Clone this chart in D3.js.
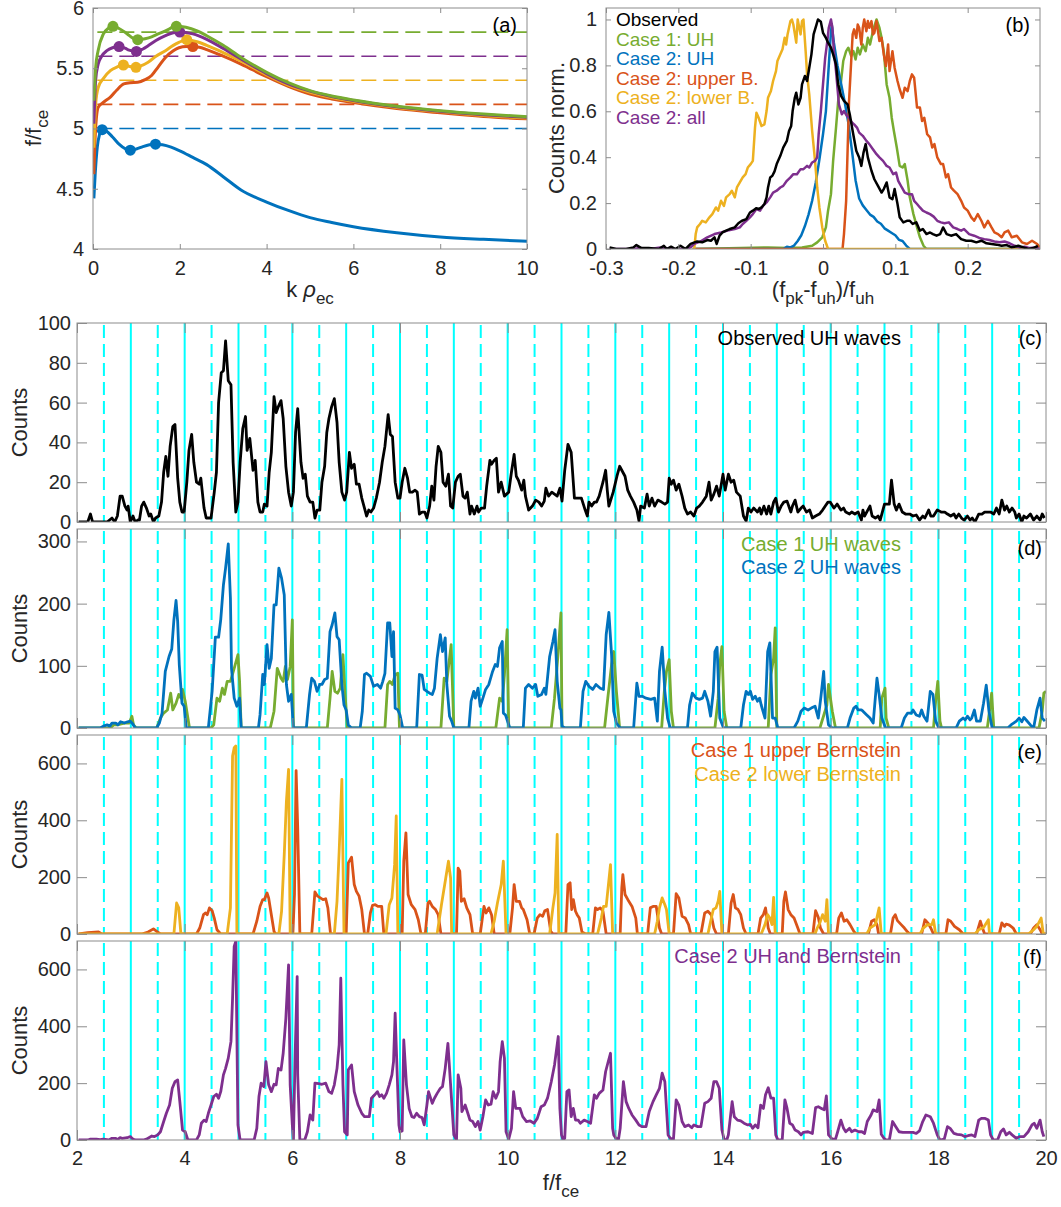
<!DOCTYPE html>
<html>
<head>
<meta charset="utf-8">
<script src="https://cdn.jsdelivr.net/npm/d3@7"></script>
<style>
body { margin: 0; background: #fff; }
text { font-family: "Liberation Sans", Arial, Helvetica, sans-serif; }
</style>
</head>
<body>
<div id="chart"></div>
<script>
// ---- panel (a): dispersion curves, f/fce vs k rho_ec ----
const dispBlue = [[0.02,4.42],[0.05,4.62],[0.1,4.85],[0.15,4.95],[0.21,4.99],[0.3,4.98],[0.45,4.93],[0.6,4.87],[0.75,4.83],[0.86,4.82],[1.0,4.83],[1.15,4.85],[1.3,4.865],[1.44,4.87],[1.6,4.865],[1.8,4.845],[2.0,4.815],[2.3,4.76],[2.62,4.70],[3.0,4.60],[3.41,4.49],[4.0,4.39],[4.5,4.32],[5.0,4.26],[5.5,4.22],[6.0,4.185],[7.0,4.135],[8.0,4.10],[9.0,4.08],[10.0,4.064]];
const dispOrange = [[0.02,4.62],[0.06,5.0],[0.12,5.176],[0.25,5.22],[0.4,5.26],[0.55,5.32],[0.71,5.37],[0.85,5.38],[1.03,5.383],[1.2,5.405],[1.35,5.44],[1.5,5.51],[1.67,5.59],[1.85,5.645],[1.98,5.67],[2.15,5.68],[2.3,5.68],[2.45,5.675],[2.62,5.655],[3.0,5.60],[3.41,5.535],[4.0,5.43],[4.5,5.35],[5.0,5.286],[5.5,5.245],[6.0,5.215],[7.0,5.165],[8.0,5.13],[9.0,5.1],[10.0,5.08]];
const dispYellow = [[0.02,4.84],[0.06,5.2],[0.12,5.34],[0.25,5.42],[0.4,5.48],[0.55,5.51],[0.7,5.527],[0.85,5.515],[0.99,5.508],[1.1,5.52],[1.27,5.55],[1.45,5.6],[1.67,5.646],[1.85,5.69],[1.98,5.715],[2.16,5.737],[2.4,5.72],[2.62,5.69],[3.0,5.63],[3.41,5.56],[4.0,5.445],[4.5,5.36],[5.0,5.30],[5.5,5.258],[6.0,5.225],[7.0,5.175],[8.0,5.14],[9.0,5.108],[10.0,5.087]];
const dispPurple = [[0.02,5.04],[0.06,5.4],[0.12,5.535],[0.2,5.6],[0.32,5.646],[0.45,5.67],[0.6,5.68],[0.75,5.665],[0.83,5.65],[1.0,5.64],[1.15,5.66],[1.27,5.687],[1.45,5.73],[1.67,5.77],[1.85,5.795],[2.0,5.80],[2.3,5.785],[2.62,5.74],[3.0,5.665],[3.41,5.577],[4.0,5.455],[4.5,5.37],[5.0,5.31],[5.5,5.265],[6.0,5.232],[7.0,5.18],[8.0,5.143],[9.0,5.115],[10.0,5.093]];
const dispGreen = [[0.02,5.23],[0.06,5.5],[0.12,5.65],[0.24,5.785],[0.35,5.83],[0.46,5.848],[0.6,5.83],[0.79,5.785],[0.92,5.75],[1.03,5.737],[1.2,5.745],[1.35,5.76],[1.5,5.785],[1.67,5.81],[1.92,5.848],[2.14,5.84],[2.4,5.81],[2.62,5.77],[3.0,5.69],[3.41,5.59],[4.0,5.466],[4.5,5.38],[5.0,5.314],[5.5,5.27],[6.0,5.237],[7.0,5.185],[8.0,5.148],[9.0,5.12],[10.0,5.098]];
const dotsBlue = [[0.21,4.99],[0.86,4.82],[1.44,4.87]];
const dotsOrange = [[2.3,5.68]];
const dotsYellow = [[0.7,5.527],[0.99,5.508],[2.16,5.737]];
const dotsPurple = [[0.6,5.68],[1.0,5.64],[2.0,5.80]];
const dotsGreen = [[0.46,5.848],[1.03,5.737],[1.92,5.848]];
const uhLevels = [5.0, 5.2, 5.4, 5.6, 5.8];

// ---- panel (b): normalised counts vs (fpk-fuh)/fuh ----
const normObserved = [[-0.295,0.007],[-0.286,0],[-0.272,0],[-0.262,0.007],[-0.258,0.017],[-0.251,0.004],[-0.241,0.004],[-0.227,0],[-0.220,0.014],[-0.216,0],[-0.210,0.01],[-0.204,0],[-0.197,0.014],[-0.190,0],[-0.183,0.022],[-0.174,0.033],[-0.167,0.029],[-0.160,0.039],[-0.155,0.036],[-0.150,0.051],[-0.147,0.022],[-0.143,0.058],[-0.139,0.072],[-0.134,0.08],[-0.129,0.087],[-0.122,0.094],[-0.117,0.112],[-0.112,0.123],[-0.106,0.13],[-0.101,0.159],[-0.097,0.167],[-0.092,0.178],[-0.089,0.174],[-0.085,0.181],[-0.081,0.196],[-0.078,0.225],[-0.076,0.268],[-0.073,0.312],[-0.070,0.319],[-0.067,0.338],[-0.064,0.37],[-0.059,0.406],[-0.055,0.442],[-0.050,0.471],[-0.047,0.514],[-0.044,0.536],[-0.042,0.601],[-0.039,0.659],[-0.037,0.681],[-0.034,0.63],[-0.031,0.659],[-0.029,0.717],[-0.025,0.754],[-0.022,0.732],[-0.019,0.79],[-0.016,0.848],[-0.013,0.935],[-0.009,0.978],[-0.007,1.0],[-0.003,0.99],[0,0.942],[0.004,0.92],[0.007,0.899],[0.011,0.877],[0.014,0.848],[0.018,0.804],[0.021,0.717],[0.025,0.667],[0.029,0.645],[0.034,0.63],[0.037,0.587],[0.041,0.514],[0.046,0.428],[0.050,0.399],[0.053,0.362],[0.056,0.42],[0.059,0.457],[0.062,0.399],[0.067,0.341],[0.071,0.304],[0.076,0.275],[0.081,0.246],[0.084,0.261],[0.088,0.29],[0.092,0.225],[0.096,0.217],[0.099,0.261],[0.103,0.196],[0.106,0.138],[0.111,0.116],[0.116,0.123],[0.120,0.123],[0.124,0.109],[0.129,0.116],[0.134,0.08],[0.138,0.087],[0.143,0.065],[0.148,0.072],[0.152,0.065],[0.157,0.058],[0.162,0.065],[0.166,0.094],[0.171,0.065],[0.177,0.058],[0.184,0.065],[0.191,0.043],[0.198,0.036],[0.205,0.036],[0.212,0.029],[0.219,0.036],[0.226,0.025],[0.233,0.022],[0.240,0.019],[0.247,0.014],[0.254,0.017],[0.261,0.007],[0.270,0.014],[0.277,0.007],[0.284,0],[0.291,0.004],[0.297,0.014]];
const normCase1UH = [[-0.18,0],[-0.076,0.007],[-0.048,0.004],[-0.029,0.007],[-0.015,0.014],[-0.008,0.029],[-0.001,0.051],[0.004,0.094],[0.007,0.167],[0.011,0.239],[0.014,0.384],[0.018,0.529],[0.021,0.645],[0.025,0.732],[0.028,0.819],[0.032,0.862],[0.035,0.877],[0.039,0.841],[0.042,0.862],[0.045,0.826],[0.048,0.877],[0.051,0.848],[0.055,0.891],[0.059,0.862],[0.062,0.92],[0.065,0.891],[0.069,0.949],[0.071,0.971],[0.074,1.0],[0.078,0.964],[0.081,0.92],[0.084,0.862],[0.088,0.717],[0.092,0.659],[0.095,0.572],[0.098,0.514],[0.102,0.442],[0.106,0.362],[0.110,0.355],[0.113,0.37],[0.117,0.297],[0.120,0.225],[0.125,0.152],[0.130,0.094],[0.134,0.051],[0.139,0.014],[0.143,0],[0.3,0]];
const normCase2UH = [[-0.18,0],[-0.055,0],[-0.05,0.01],[-0.045,0.007],[-0.04,0.015],[-0.035,0.035],[-0.03,0.06],[-0.025,0.1],[-0.02,0.15],[-0.015,0.21],[-0.01,0.29],[-0.005,0.39],[0.0,0.5],[0.004,0.6],[0.007,0.75],[0.010,0.9],[0.012,0.98],[0.015,0.9],[0.02,0.8],[0.025,0.72],[0.03,0.64],[0.035,0.55],[0.04,0.43],[0.045,0.3],[0.05,0.22],[0.055,0.19],[0.06,0.17],[0.065,0.15],[0.07,0.14],[0.075,0.12],[0.08,0.11],[0.085,0.09],[0.09,0.08],[0.095,0.07],[0.1,0.06],[0.105,0.04],[0.11,0.035],[0.115,0.015],[0.12,0],[0.3,0]];
const normUpperB = [[-0.18,0],[0.027,0],[0.029,0.065],[0.032,0.21],[0.034,0.428],[0.036,0.645],[0.039,0.819],[0.041,0.935],[0.043,0.957],[0.046,0.92],[0.048,0.978],[0.050,0.964],[0.053,0.891],[0.055,0.964],[0.057,1.0],[0.060,0.949],[0.062,0.993],[0.064,0.964],[0.067,0.993],[0.069,0.935],[0.071,0.942],[0.074,0.993],[0.078,0.906],[0.081,0.92],[0.084,0.848],[0.087,0.797],[0.090,0.891],[0.092,0.775],[0.096,0.862],[0.099,0.79],[0.103,0.732],[0.106,0.696],[0.110,0.659],[0.113,0.703],[0.117,0.688],[0.120,0.732],[0.123,0.761],[0.126,0.746],[0.130,0.616],[0.134,0.616],[0.137,0.558],[0.140,0.572],[0.144,0.5],[0.148,0.486],[0.151,0.442],[0.154,0.457],[0.158,0.399],[0.163,0.37],[0.166,0.37],[0.170,0.312],[0.173,0.326],[0.177,0.268],[0.181,0.254],[0.186,0.239],[0.191,0.21],[0.195,0.181],[0.200,0.167],[0.205,0.138],[0.209,0.123],[0.214,0.152],[0.219,0.123],[0.223,0.094],[0.228,0.123],[0.233,0.094],[0.237,0.072],[0.242,0.065],[0.247,0.051],[0.251,0.072],[0.256,0.08],[0.261,0.051],[0.268,0.058],[0.275,0.029],[0.282,0.022],[0.289,0.036],[0.296,0.022],[0.300,0.007]];
const normLowerB = [[-0.18,0],[-0.178,0],[-0.176,0.065],[-0.174,0.094],[-0.170,0.109],[-0.167,0.123],[-0.162,0.116],[-0.157,0.138],[-0.153,0.152],[-0.148,0.181],[-0.145,0.167],[-0.141,0.21],[-0.137,0.188],[-0.134,0.225],[-0.129,0.239],[-0.126,0.254],[-0.122,0.225],[-0.119,0.268],[-0.115,0.29],[-0.111,0.312],[-0.107,0.326],[-0.104,0.355],[-0.100,0.37],[-0.097,0.384],[-0.094,0.529],[-0.092,0.594],[-0.089,0.572],[-0.085,0.536],[-0.081,0.543],[-0.078,0.601],[-0.076,0.659],[-0.072,0.688],[-0.069,0.732],[-0.065,0.775],[-0.063,0.819],[-0.059,0.848],[-0.056,0.87],[-0.053,0.92],[-0.051,0.891],[-0.049,0.935],[-0.045,0.993],[-0.043,1.0],[-0.041,0.978],[-0.037,0.899],[-0.035,1.0],[-0.031,0.935],[-0.029,0.993],[-0.027,1.0],[-0.024,0.862],[-0.022,0.761],[-0.019,0.674],[-0.015,0.514],[-0.011,0.384],[-0.008,0.268],[-0.005,0.181],[-0.001,0.094],[0.003,0.036],[0.007,0],[0.3,0]];
const normCase2All = [[-0.295,0],[-0.262,0],[-0.253,0.004],[-0.239,0],[-0.225,0.007],[-0.206,0],[-0.192,0],[-0.183,0.007],[-0.178,0.022],[-0.169,0.033],[-0.160,0.051],[-0.150,0.065],[-0.141,0.072],[-0.132,0.08],[-0.122,0.087],[-0.115,0.094],[-0.111,0.109],[-0.106,0.123],[-0.101,0.138],[-0.097,0.152],[-0.092,0.174],[-0.087,0.167],[-0.083,0.188],[-0.078,0.203],[-0.073,0.225],[-0.069,0.246],[-0.064,0.254],[-0.059,0.268],[-0.055,0.275],[-0.050,0.297],[-0.045,0.312],[-0.041,0.326],[-0.036,0.326],[-0.031,0.348],[-0.027,0.348],[-0.022,0.362],[-0.019,0.355],[-0.015,0.377],[-0.011,0.384],[-0.008,0.399],[-0.006,0.5],[-0.003,0.601],[0,0.717],[0.003,0.833],[0.006,0.906],[0.008,0.964],[0.011,1.0],[0.013,0.964],[0.015,0.862],[0.018,0.775],[0.020,0.703],[0.022,0.63],[0.026,0.587],[0.029,0.601],[0.033,0.58],[0.036,0.572],[0.040,0.551],[0.043,0.543],[0.047,0.529],[0.050,0.507],[0.055,0.493],[0.060,0.471],[0.064,0.457],[0.069,0.435],[0.074,0.413],[0.078,0.399],[0.083,0.384],[0.088,0.362],[0.092,0.355],[0.097,0.326],[0.101,0.333],[0.104,0.297],[0.109,0.268],[0.113,0.246],[0.118,0.239],[0.123,0.239],[0.126,0.21],[0.130,0.196],[0.134,0.181],[0.138,0.167],[0.143,0.159],[0.148,0.152],[0.153,0.141],[0.158,0.123],[0.163,0.116],[0.168,0.112],[0.174,0.116],[0.180,0.094],[0.186,0.087],[0.191,0.08],[0.195,0.087],[0.202,0.065],[0.209,0.058],[0.216,0.048],[0.223,0.043],[0.230,0.039],[0.237,0.033],[0.244,0.029],[0.251,0.033],[0.258,0.025],[0.265,0.014],[0.272,0.007],[0.279,0.01],[0.286,0.004],[0.293,0.007],[0.300,0]];
const legendB = ["Observed", "Case 1: UH", "Case 2: UH", "Case 2: upper B.", "Case 2: lower B.", "Case 2: all"];

// ---- panels (c)-(f): counts vs f/fce ----
const countsObserved = [[2.03,0],[2.20,0],[2.25,4],[2.29,0],[2.56,0],[2.65,2],[2.70,0],[2.75,3],[2.80,13],[2.84,13],[2.89,8],[2.93,6],[2.95,8],[2.99,0],[3.04,3],[3.08,0],[3.13,1],[3.16,1],[3.20,8],[3.24,10],[3.29,7],[3.34,3],[3.37,4],[3.42,0],[3.46,2],[3.52,3],[3.57,10],[3.61,25],[3.65,33],[3.69,23],[3.73,38],[3.78,48],[3.82,49],[3.87,22],[3.91,10],[3.95,5],[3.99,5],[4.04,20],[4.08,36],[4.13,44],[4.17,30],[4.22,20],[4.27,19],[4.30,22],[4.36,7],[4.40,2],[4.49,2],[4.55,15],[4.59,25],[4.63,60],[4.68,75],[4.72,76],[4.76,91],[4.81,71],[4.86,69],[4.90,30],[4.95,5],[4.99,10],[5.03,30],[5.08,47],[5.13,53],[5.16,36],[5.21,42],[5.27,26],[5.31,31],[5.36,10],[5.40,5],[5.45,5],[5.48,9],[5.53,8],[5.57,25],[5.61,35],[5.66,63],[5.70,55],[5.74,58],[5.79,61],[5.83,52],[5.88,28],[5.93,15],[5.98,8],[6.02,15],[6.06,45],[6.10,57],[6.16,30],[6.20,22],[6.24,24],[6.28,13],[6.33,10],[6.38,10],[6.42,2],[6.46,6],[6.51,6],[6.55,20],[6.60,28],[6.64,45],[6.68,52],[6.73,58],[6.78,62],[6.83,50],[6.87,30],[6.92,15],[6.97,11],[7.01,15],[7.06,35],[7.10,27],[7.15,29],[7.19,19],[7.24,19],[7.29,12],[7.34,7],[7.38,3],[7.42,6],[7.46,5],[7.51,7],[7.56,12],[7.62,20],[7.67,30],[7.72,38],[7.78,54],[7.82,44],[7.86,43],[7.91,20],[7.96,12],[8.00,12],[8.04,20],[8.09,27],[8.14,22],[8.18,15],[8.23,15],[8.28,16],[8.32,15],[8.36,4],[8.41,5],[8.46,5],[8.50,2],[8.55,8],[8.59,18],[8.63,11],[8.67,28],[8.71,38],[8.76,35],[8.80,20],[8.85,18],[8.90,24],[8.94,8],[8.98,7],[9.03,20],[9.08,23],[9.12,24],[9.17,13],[9.21,12],[9.25,15],[9.30,4],[9.33,8],[9.38,4],[9.43,8],[9.46,5],[9.51,7],[9.57,7],[9.61,18],[9.67,31],[9.70,29],[9.75,31],[9.79,32],[9.83,15],[9.88,20],[9.94,13],[10.02,15],[10.07,25],[10.12,34],[10.16,23],[10.20,21],[10.26,16],[10.30,21],[10.33,13],[10.39,6],[10.46,8],[10.52,11],[10.58,10],[10.63,8],[10.68,10.5],[10.71,17],[10.76,13],[10.82,15],[10.87,14],[10.92,13],[10.97,17],[11.01,10.5],[11.06,26],[11.12,39],[11.18,35],[11.24,12],[11.31,12],[11.37,12],[11.44,6],[11.48,3],[11.51,10],[11.56,8],[11.61,10],[11.65,10],[11.70,13],[11.77,20],[11.82,26],[11.85,16],[11.88,8],[11.96,15],[12.03,23],[12.08,28],[12.12,26],[12.18,23],[12.23,16],[12.28,13],[12.34,10],[12.40,6],[12.44,0.5],[12.47,8],[12.54,7],[12.59,14],[12.63,8],[12.68,12],[12.73,8],[12.79,11],[12.86,10],[12.92,9],[12.97,10],[13.00,22],[13.04,19],[13.08,21],[13.13,16],[13.18,19],[13.24,13],[13.29,7],[13.34,4],[13.40,5],[13.46,3],[13.51,7],[13.56,8],[13.62,10],[13.69,13],[13.74,20],[13.78,11],[13.83,14],[13.88,18],[13.93,13],[14.00,24],[14.04,16],[14.10,24],[14.15,20],[14.20,21],[14.25,15],[14.32,13],[14.38,3],[14.43,0.5],[14.47,7],[14.52,5],[14.57,7],[14.64,5],[14.68,7],[14.71,4],[14.76,8],[14.81,4],[14.85,8],[14.89,4],[14.94,10],[14.98,12],[15.03,5],[15.08,8],[15.13,10],[15.19,10.5],[15.26,5],[15.29,8],[15.34,11],[15.39,5],[15.45,7],[15.49,8],[15.55,5],[15.61,6],[15.66,2],[15.72,3],[15.79,4],[15.85,6],[15.90,8],[15.95,10],[15.99,10],[16.06,7],[16.12,9],[16.19,6],[16.24,7],[16.28,5],[16.35,4],[16.39,5],[16.45,4],[16.51,5],[16.57,1],[16.60,6],[16.63,3],[16.69,6],[16.73,8],[16.77,3],[16.83,2],[16.88,3],[16.92,1],[16.97,6],[17.00,9],[17.05,9],[17.09,9],[17.13,21],[17.18,9],[17.22,6],[17.27,9],[17.33,5],[17.39,4],[17.47,4],[17.53,3],[17.59,3.5],[17.65,1],[17.71,3],[17.75,2],[17.82,6],[17.86,3],[17.91,3],[17.98,6],[18.05,5],[18.12,5],[18.17,4],[18.23,3],[18.29,4],[18.33,2],[18.38,4],[18.43,2],[18.48,1],[18.54,3],[18.59,1],[18.63,2],[18.68,0],[18.75,4],[18.81,4],[18.86,5],[18.93,5],[18.97,5],[19.03,4],[19.08,7],[19.13,4],[19.18,11],[19.23,6],[19.27,8],[19.32,5],[19.37,7],[19.42,5],[19.45,2],[19.50,4],[19.55,0],[19.59,3],[19.64,2],[19.71,4],[19.77,1],[19.83,3],[19.89,1],[19.93,4],[19.97,2]];
const countsCase1UH = [[2.03,0],[2.62,0],[2.68,5],[2.75,5],[2.88,8],[2.97,8],[3.02,19],[3.05,5],[3.10,0],[3.48,0],[3.55,16],[3.61,24],[3.68,29],[3.74,56],[3.78,29],[3.84,40],[3.89,54],[3.93,48],[3.96,62],[4.01,43],[4.06,16],[4.09,0],[4.49,0],[4.54,5],[4.60,48],[4.65,43],[4.70,64],[4.74,54],[4.79,75],[4.85,75],[4.92,96],[4.99,118],[5.02,75],[5.05,0],[5.59,0],[5.66,27],[5.72,96],[5.79,80],[5.83,75],[5.87,99],[5.91,78],[5.96,99],[6.00,174],[6.02,0],[6.65,0],[6.70,48],[6.74,91],[6.79,59],[6.84,56],[6.89,64],[6.94,118],[6.97,70],[7.02,0],[7.72,0],[7.77,70],[7.81,75],[7.86,70],[7.91,86],[7.96,88],[7.99,0],[8.76,0],[8.82,80],[8.87,75],[8.95,134],[9.00,0],[9.78,0],[9.85,48],[9.90,43],[9.94,86],[9.99,158],[10.02,0],[10.81,0],[10.87,48],[10.94,123],[10.99,185],[11.01,0],[11.80,0],[11.86,48],[11.93,102],[11.97,123],[12.02,59],[12.08,0],[12.86,0],[12.91,59],[12.95,91],[13.00,110],[13.04,27],[13.08,0],[13.85,0],[13.91,48],[13.94,102],[13.98,131],[14.02,27],[14.07,0],[14.84,0],[14.89,86],[14.94,112],[14.97,161],[15.00,0],[15.80,0],[15.93,37],[15.96,70],[16.03,27],[16.09,0],[16.92,0],[16.95,48],[17.01,64],[17.03,16],[17.08,0],[17.91,0],[17.95,43],[17.99,75],[18.03,11],[18.06,0],[18.91,0],[18.95,27],[18.99,56],[19.03,0],[19.87,0],[19.93,27],[19.96,56],[20.0,59]];
const countsCase2UH = [[2.03,0],[2.43,0],[2.49,3],[2.56,5],[2.61,3],[2.65,8],[2.72,8],[2.76,5],[2.81,10],[2.88,8],[2.94,10],[2.99,11],[3.04,6],[3.08,0],[3.48,0],[3.53,8],[3.58,24],[3.64,91],[3.71,115],[3.76,127],[3.80,174],[3.84,205],[3.87,171],[3.90,102],[3.95,40],[3.99,35],[4.03,0],[4.44,0],[4.51,59],[4.57,146],[4.63,146],[4.67,174],[4.72,230],[4.76,257],[4.81,296],[4.85,209],[4.87,96],[4.92,48],[4.97,35],[5.02,48],[5.05,0],[5.37,0],[5.40,21],[5.45,86],[5.48,70],[5.53,134],[5.57,96],[5.61,112],[5.66,198],[5.70,198],[5.75,257],[5.80,241],[5.85,214],[5.89,70],[5.93,43],[5.98,54],[6.02,0],[6.26,0],[6.32,54],[6.36,80],[6.41,75],[6.46,59],[6.51,70],[6.55,70],[6.60,78],[6.65,80],[6.70,155],[6.74,166],[6.79,185],[6.83,147],[6.87,142],[6.92,70],[6.96,37],[7.00,29],[7.04,5],[7.10,0],[7.26,0],[7.30,27],[7.34,86],[7.38,88],[7.45,83],[7.51,67],[7.58,70],[7.64,64],[7.68,75],[7.72,88],[7.77,169],[7.81,169],[7.85,115],[7.88,155],[7.91,32],[7.96,29],[8.00,21],[8.05,0],[8.31,0],[8.36,86],[8.41,85],[8.45,62],[8.50,59],[8.55,56],[8.60,54],[8.64,64],[8.69,112],[8.75,150],[8.79,123],[8.84,145],[8.87,70],[8.92,19],[8.96,11],[9.00,0],[9.28,0],[9.32,43],[9.37,59],[9.40,48],[9.45,64],[9.49,35],[9.54,48],[9.59,62],[9.65,70],[9.72,91],[9.77,102],[9.81,99],[9.85,129],[9.90,139],[9.92,24],[9.96,21],[10.04,0],[10.29,0],[10.33,64],[10.39,70],[10.46,64],[10.52,70],[10.56,51],[10.63,54],[10.68,64],[10.71,54],[10.78,115],[10.84,139],[10.88,158],[10.92,75],[10.97,32],[10.99,29],[11.01,3],[11.06,0],[11.35,0],[11.40,59],[11.45,75],[11.51,67],[11.58,62],[11.64,70],[11.72,64],[11.78,62],[11.83,150],[11.88,186],[11.93,118],[11.97,27],[12.02,8],[12.09,0],[12.34,0],[12.40,72],[12.44,51],[12.50,51],[12.57,48],[12.66,46],[12.73,48],[12.78,11],[12.82,91],[12.87,130],[12.92,59],[12.97,16],[13.02,0],[13.34,0],[13.38,37],[13.43,56],[13.50,48],[13.56,46],[13.62,48],[13.66,59],[13.72,43],[13.77,19],[13.82,59],[13.85,123],[13.89,130],[13.94,16],[14.01,0],[14.33,0],[14.38,37],[14.43,59],[14.47,54],[14.51,59],[14.55,46],[14.60,51],[14.64,43],[14.68,48],[14.71,37],[14.78,16],[14.83,123],[14.87,137],[14.92,16],[14.97,16],[15.02,0],[15.32,0],[15.39,11],[15.45,27],[15.51,32],[15.58,29],[15.64,32],[15.71,35],[15.77,16],[15.82,51],[15.87,91],[15.90,43],[15.96,5],[16.03,0],[16.31,0],[16.36,16],[16.43,32],[16.47,35],[16.51,29],[16.57,29],[16.60,27],[16.67,21],[16.73,16],[16.79,8],[16.86,80],[16.90,54],[16.95,16],[17.02,0],[17.31,0],[17.37,16],[17.43,24],[17.50,24],[17.53,29],[17.59,21],[17.65,19],[17.69,29],[17.73,19],[17.79,11],[17.85,59],[17.90,54],[17.95,11],[18.01,0],[18.33,0],[18.39,11],[18.46,16],[18.50,13],[18.54,19],[18.59,13],[18.62,16],[18.67,29],[18.71,11],[18.78,11],[18.84,40],[18.89,69],[18.94,27],[19.00,0],[19.29,0],[19.35,5],[19.45,11],[19.50,16],[19.55,10],[19.59,17],[19.64,12],[19.71,5],[19.77,0],[19.83,29],[19.89,48],[19.93,16],[19.98,11]];
const countsUpperB = [[2.03,0],[2.20,5],[2.40,7],[2.46,0],[3.20,0],[3.32,7],[3.42,18],[3.50,7],[3.55,0],[4.22,0],[4.28,21],[4.35,68],[4.39,74],[4.42,68],[4.46,92],[4.51,82],[4.55,56],[4.60,15],[4.67,0],[5.27,0],[5.34,45],[5.40,97],[5.45,121],[5.48,121],[5.53,144],[5.56,127],[5.61,68],[5.66,9],[5.69,0],[6.01,0],[6.04,139],[6.07,575],[6.10,373],[6.14,0],[6.36,0],[6.42,148],[6.47,133],[6.52,127],[6.57,121],[6.62,124],[6.66,92],[6.71,0],[7.00,0],[7.04,250],[7.10,270],[7.15,174],[7.19,150],[7.24,133],[7.29,86],[7.34,0],[7.40,0],[7.45,74],[7.49,101],[7.54,103],[7.59,97],[7.66,97],[7.70,0],[8.04,0],[8.07,256],[8.11,356],[8.15,139],[8.21,103],[8.28,86],[8.34,50],[8.39,0],[8.47,0],[8.52,109],[8.55,115],[8.60,97],[8.66,86],[8.71,68],[8.76,0],[9.05,0],[9.08,232],[9.11,221],[9.14,115],[9.19,124],[9.24,92],[9.30,68],[9.35,0],[9.49,0],[9.56,97],[9.60,74],[9.65,92],[9.70,68],[9.75,0],[10.04,0],[10.09,92],[10.12,174],[10.16,115],[10.22,115],[10.26,92],[10.29,86],[10.36,50],[10.41,0],[10.49,0],[10.55,56],[10.60,68],[10.65,62],[10.69,82],[10.74,86],[10.80,9],[10.84,0],[11.08,0],[11.12,174],[11.16,180],[11.19,86],[11.22,121],[11.26,80],[11.29,68],[11.33,56],[11.38,7],[11.45,0],[11.58,0],[11.63,92],[11.67,86],[11.72,92],[11.77,80],[11.83,0],[12.09,0],[12.12,162],[12.14,209],[12.18,139],[12.25,115],[12.31,97],[12.38,56],[12.41,0],[12.60,0],[12.65,92],[12.70,97],[12.76,97],[12.82,21],[12.86,0],[13.08,0],[13.13,142],[13.18,127],[13.24,62],[13.30,56],[13.36,33],[13.40,0],[13.59,0],[13.66,74],[13.72,80],[13.78,68],[13.83,21],[13.88,0],[14.10,0],[14.15,109],[14.19,139],[14.23,92],[14.28,86],[14.33,68],[14.38,21],[14.43,0],[14.65,0],[14.70,56],[14.75,68],[14.79,92],[14.84,21],[14.88,0],[15.10,0],[15.13,115],[15.16,148],[15.21,86],[15.26,68],[15.32,56],[15.39,21],[15.43,0],[15.67,0],[15.72,82],[15.77,59],[15.81,21],[15.87,0],[16.11,0],[16.15,56],[16.20,74],[16.25,45],[16.30,50],[16.36,33],[16.43,9],[16.47,0],[16.70,0],[16.76,45],[16.81,50],[16.86,33],[16.89,0],[17.11,0],[17.16,56],[17.20,68],[17.24,47],[17.31,33],[17.37,21],[17.43,7],[17.47,0],[17.69,0],[17.75,50],[17.82,35],[17.86,21],[17.91,0],[18.14,0],[18.18,50],[18.23,45],[18.30,27],[18.39,15],[18.46,0],[18.71,0],[18.78,45],[18.82,21],[18.86,0],[19.13,0],[19.18,39],[19.23,27],[19.26,35],[19.32,31],[19.39,21],[19.45,0],[19.71,0],[19.77,21],[19.83,33],[19.90,12],[19.93,0],[20.0,0]];
const countsLowerB = [[2.03,0],[3.80,0],[3.85,109],[3.89,92],[3.93,0],[4.79,0],[4.85,92],[4.89,626],[4.92,655],[4.95,661],[4.97,0],[5.75,0],[5.80,80],[5.85,280],[5.89,467],[5.93,579],[5.96,0],[6.78,0],[6.83,115],[6.87,291],[6.92,544],[6.96,0],[7.74,0],[7.80,103],[7.85,127],[7.90,244],[7.93,415],[7.96,0],[8.69,0],[8.77,103],[8.85,197],[8.90,256],[8.94,197],[8.96,0],[9.69,0],[9.75,45],[9.81,109],[9.88,174],[9.92,256],[9.97,0],[10.78,0],[10.84,92],[10.88,144],[10.92,350],[10.95,0],[11.67,0],[11.74,56],[11.78,97],[11.83,97],[11.91,244],[11.95,0],[12.73,0],[12.78,45],[12.82,92],[12.87,127],[12.92,103],[12.95,86],[13.00,0],[13.72,0],[13.77,45],[13.82,86],[13.87,92],[13.91,115],[13.94,150],[13.98,0],[14.71,0],[14.78,33],[14.83,68],[14.87,56],[14.91,33],[14.94,129],[14.97,0],[15.71,0],[15.75,21],[15.80,39],[15.85,68],[15.90,45],[15.93,121],[15.96,0],[16.67,0],[16.73,21],[16.83,33],[16.90,92],[16.94,0],[17.66,0],[17.72,21],[17.80,33],[17.88,33],[17.91,50],[17.95,0],[18.68,0],[18.75,15],[18.84,23],[18.93,50],[18.95,0],[19.67,0],[19.77,15],[19.83,27],[19.91,56],[19.95,0],[20.0,0]];
const countsCase2All = [[2.03,0],[2.20,0],[2.25,3],[2.36,3],[2.43,1],[2.49,3],[2.59,0],[2.65,6],[2.72,6],[2.75,1],[2.80,8],[2.84,6],[2.93,8],[2.99,12],[3.04,3],[3.08,0],[3.23,0],[3.29,3],[3.39,14],[3.44,12],[3.50,18],[3.55,29],[3.61,65],[3.66,94],[3.72,123],[3.77,182],[3.82,205],[3.87,211],[3.91,135],[3.96,35],[4.01,29],[4.06,0],[4.22,0],[4.27,18],[4.31,59],[4.36,70],[4.40,65],[4.44,94],[4.49,123],[4.54,153],[4.59,161],[4.63,147],[4.67,170],[4.72,229],[4.76,252],[4.81,288],[4.86,346],[4.89,499],[4.92,681],[4.95,699],[4.99,53],[5.03,0],[5.29,0],[5.34,41],[5.38,153],[5.42,200],[5.47,188],[5.51,276],[5.56,194],[5.61,170],[5.66,196],[5.70,194],[5.74,252],[5.79,246],[5.83,305],[5.88,429],[5.93,616],[5.96,194],[6.00,53],[6.02,0],[6.05,282],[6.09,575],[6.10,229],[6.14,0],[6.23,0],[6.28,29],[6.33,88],[6.38,70],[6.42,200],[6.49,198],[6.55,196],[6.62,200],[6.68,170],[6.73,164],[6.78,194],[6.83,252],[6.87,335],[6.90,569],[6.94,194],[6.97,29],[7.02,18],[7.04,247],[7.10,264],[7.15,170],[7.22,123],[7.29,94],[7.34,82],[7.38,82],[7.43,82],[7.47,147],[7.53,159],[7.58,170],[7.62,153],[7.66,159],[7.70,147],[7.75,164],[7.80,194],[7.85,229],[7.88,276],[7.91,446],[7.94,276],[7.98,53],[8.00,29],[8.04,32],[8.07,352],[8.12,194],[8.17,111],[8.22,82],[8.26,79],[8.31,94],[8.36,82],[8.41,79],[8.45,53],[8.50,123],[8.53,170],[8.60,129],[8.64,147],[8.69,164],[8.75,182],[8.79,188],[8.84,252],[8.89,340],[8.94,194],[9.00,18],[9.05,0],[9.08,229],[9.13,182],[9.15,100],[9.21,123],[9.26,94],[9.30,70],[9.35,65],[9.40,47],[9.45,65],[9.49,35],[9.54,82],[9.59,141],[9.64,123],[9.69,126],[9.73,170],[9.78,147],[9.83,170],[9.86,276],[9.90,346],[9.94,288],[9.97,29],[10.02,3],[10.07,41],[10.11,170],[10.15,111],[10.20,111],[10.23,111],[10.28,82],[10.35,65],[10.42,67],[10.49,59],[10.55,76],[10.62,117],[10.68,123],[10.74,147],[10.81,205],[10.87,264],[10.94,364],[10.97,111],[11.00,18],[11.03,0],[11.06,6],[11.10,170],[11.14,176],[11.18,82],[11.22,111],[11.26,70],[11.31,70],[11.35,59],[11.42,70],[11.48,65],[11.54,59],[11.61,159],[11.65,147],[11.70,164],[11.77,176],[11.82,241],[11.86,270],[11.91,305],[11.95,41],[11.97,18],[12.01,6],[12.06,3],[12.09,41],[12.15,205],[12.20,135],[12.25,111],[12.31,88],[12.38,70],[12.44,53],[12.50,47],[12.57,47],[12.63,100],[12.70,135],[12.76,159],[12.82,182],[12.87,235],[12.92,205],[12.95,111],[12.98,18],[13.02,6],[13.08,3],[13.13,141],[13.18,123],[13.24,65],[13.29,47],[13.36,53],[13.42,43],[13.46,53],[13.53,47],[13.59,47],[13.66,129],[13.72,135],[13.78,147],[13.83,205],[13.88,205],[13.93,182],[13.98,35],[14.02,3],[14.07,0],[14.10,18],[14.17,135],[14.21,82],[14.27,70],[14.33,67],[14.39,59],[14.46,53],[14.51,55],[14.55,41],[14.60,53],[14.65,43],[14.70,123],[14.75,111],[14.79,159],[14.84,184],[14.89,147],[14.94,147],[14.98,18],[15.02,0],[15.10,0],[15.15,141],[15.19,111],[15.24,59],[15.29,53],[15.34,35],[15.40,29],[15.45,18],[15.49,27],[15.58,29],[15.66,23],[15.72,114],[15.77,117],[15.83,111],[15.88,106],[15.92,155],[15.96,18],[16.03,3],[16.09,3],[16.13,29],[16.19,70],[16.24,41],[16.28,29],[16.35,41],[16.39,29],[16.45,35],[16.52,29],[16.58,29],[16.63,23],[16.68,65],[16.75,88],[16.79,106],[16.86,100],[16.90,141],[16.94,20],[16.99,6],[17.03,0],[17.09,0],[17.15,65],[17.21,47],[17.27,29],[17.34,27],[17.40,27],[17.47,27],[17.53,27],[17.59,23],[17.65,32],[17.71,65],[17.77,88],[17.85,82],[17.91,59],[17.98,18],[18.03,0],[18.11,3],[18.17,47],[18.22,41],[18.29,23],[18.35,20],[18.43,18],[18.49,12],[18.55,15],[18.62,18],[18.68,12],[18.75,70],[18.80,76],[18.87,76],[18.93,70],[18.97,18],[19.02,0],[19.10,0],[19.16,29],[19.21,39],[19.26,18],[19.32,27],[19.37,18],[19.45,6],[19.51,12],[19.59,12],[19.67,29],[19.74,53],[19.78,59],[19.83,41],[19.89,70],[19.93,29],[19.96,12]];

// harmonics of fce (solid) and half harmonics (dashed)
const harmonics = [3,4,5,6,7,8,9,10,11,12,13,14,15,16,17,18,19];
const halfHarmonics = [2.5,3.5,4.5,5.5,6.5,7.5,8.5,9.5,10.5,11.5,12.5,13.5,14.5,15.5,16.5,17.5,18.5,19.5];

const ticksA_x = [0,2,4,6,8,10], ticksA_y = [4,4.5,5,5.5,6];
const ticksB_x = [-0.3,-0.2,-0.1,0,0.1,0.2], ticksB_y = [0,0.2,0.4,0.6,0.8,1];
const ticksF_x = [2,4,6,8,10,12,14,16,18,20];

const width = 1061, height = 1207;
const frameColor = "#8c8c8c", textColor = "#262626";
const col = { blue: "#0072bd", orange: "#d95319", yellow: "#edb120", purple: "#7e2f8e", green: "#77ac30", black: "#000000", cyan: "#00ffff" };
const fontStack = '"Liberation Sans", Arial, Helvetica, sans-serif';

const svg = d3.select("#chart")
    .append("svg")
    .attr("width", width)
    .attr("height", height);

let clipCount = 0;

function makePanel(box, xDomain, yDomain, opt) {
    const x = d3.scaleLinear().domain(xDomain).range([box.l, box.r]);
    const y = d3.scaleLinear().domain(yDomain).range([box.b, box.t]);
    const g = svg.append("g");
    const id = "clip" + (clipCount++);
    g.append("clipPath").attr("id", id)
        .append("rect")
        .attr("x", box.l).attr("y", box.t)
        .attr("width", box.r - box.l).attr("height", box.b - box.t);
    const plot = g.append("g").attr("clip-path", "url(#" + id + ")");
    const axes = g.append("g");
    const tl = opt.tickLen;

    axes.append("g")
        .attr("transform", "translate(" + box.l + ",0)")
        .call(d3.axisLeft(y).tickValues(opt.yTicks).tickSize(-tl).tickPadding(opt.yPad).tickFormat(d => String(d)));
    axes.append("g")
        .attr("transform", "translate(" + box.r + ",0)")
        .call(d3.axisRight(y).tickValues(opt.yTicks).tickSize(-tl).tickFormat(""));
    axes.append("g")
        .attr("transform", "translate(0," + box.b + ")")
        .call(d3.axisBottom(x).tickValues(opt.xTicks).tickSize(-tl).tickPadding(opt.xPad)
            .tickFormat(opt.xLabels ? (d => String(d)) : ""));
    axes.append("g")
        .attr("transform", "translate(0," + box.t + ")")
        .call(d3.axisTop(x).tickValues(opt.xTicks).tickSize(-tl).tickFormat(""));

    axes.selectAll(".domain").remove();
    axes.selectAll("g").attr("font-family", fontStack).attr("font-size", 20);
    axes.selectAll(".tick line").attr("stroke", frameColor);
    axes.selectAll(".tick text").attr("fill", textColor);

    axes.append("rect")
        .attr("x", box.l).attr("y", box.t)
        .attr("width", box.r - box.l).attr("height", box.b - box.t)
        .attr("fill", "none")
        .attr("stroke", frameColor)
        .attr("stroke-width", 1);

    return { x, y, plot, axes, box };
}

function drawLine(p, data, color, w, curve) {
    const line = d3.line()
        .x(d => p.x(d[0]))
        .y(d => p.y(d[1]))
        .curve(curve || d3.curveLinear);
    p.plot.append("path")
        .datum(data)
        .attr("fill", "none")
        .attr("stroke", color)
        .attr("stroke-width", w)
        .attr("stroke-linejoin", "round")
        .attr("d", line);
}

// text with optional subscript parts: [["f/f", false], ["ce", true]]
function richText(parent, x, y, parts, size, opt) {
    opt = opt || {};
    const t = parent.append("text")
        .attr("x", x).attr("y", y)
        .attr("text-anchor", opt.anchor || "middle")
        .attr("font-size", size)
        .attr("fill", opt.color || textColor);
    if (opt.rotate) t.attr("transform", "rotate(-90," + x + "," + y + ")");
    let shift = 0;
    parts.forEach(([s, sub, italic]) => {
        const target = sub ? Math.round(size * 0.32) : 0;
        const ts = t.append("tspan").text(s).attr("dy", target - shift);
        if (sub) ts.attr("font-size", Math.round(size * 0.75));
        if (italic) ts.attr("font-style", "italic");
        shift = target;
    });
    return t;
}

// ---------- (a) ----------
const pa = makePanel({ l: 93, r: 527, t: 8, b: 249 }, [0, 10], [4, 6],
    { xTicks: ticksA_x, yTicks: ticksA_y, tickLen: 5, yPad: 9, xPad: 12, xLabels: true });

const levelColors = [col.blue, col.orange, col.yellow, col.purple, col.green];
pa.plot.selectAll("line.level")
    .data(uhLevels)
    .enter()
    .append("line")
    .attr("x1", pa.x(0.1))
    .attr("x2", pa.x(10))
    .attr("y1", d => pa.y(d))
    .attr("y2", d => pa.y(d))
    .attr("stroke", (d, i) => levelColors[i])
    .attr("stroke-width", 1.6)
    .attr("stroke-dasharray", "15,7");

[[dispBlue, dotsBlue, col.blue], [dispOrange, dotsOrange, col.orange], [dispYellow, dotsYellow, col.yellow],
 [dispPurple, dotsPurple, col.purple], [dispGreen, dotsGreen, col.green]].forEach(([curve, dots, c]) => {
    drawLine(pa, curve, c, 3, d3.curveMonotoneX);
    pa.plot.selectAll(null)
        .data(dots)
        .enter()
        .append("circle")
        .attr("cx", d => pa.x(d[0]))
        .attr("cy", d => pa.y(d[1]))
        .attr("r", 5.5)
        .attr("fill", c);
});

pa.axes.append("text").attr("x", 517).attr("y", 32).attr("text-anchor", "end")
    .attr("font-size", 20).attr("fill", "#000").text("(a)");
richText(svg, 41, 128, [["f/f", false], ["ce", true]], 22, { rotate: true });
richText(svg, 310, 297, [["k ", false], ["ρ", false, true], ["ec", true]], 22);

// ---------- (b) ----------
const pb = makePanel({ l: 606, r: 1040, t: 8, b: 249 }, [-0.3, 0.3], [0, 1.05],
    { xTicks: ticksB_x, yTicks: ticksB_y, tickLen: 5, yPad: 9, xPad: 12, xLabels: true });

drawLine(pb, normCase1UH, col.green, 2.5);
drawLine(pb, normCase2UH, col.blue, 2.5);
drawLine(pb, normUpperB, col.orange, 2.5);
drawLine(pb, normLowerB, col.yellow, 2.5);
drawLine(pb, normCase2All, col.purple, 2.5);
drawLine(pb, normObserved, col.black, 2.5);

const legendColors = [col.black, col.green, col.blue, col.orange, col.yellow, col.purple];
pb.axes.selectAll("text.leg")
    .data(legendB)
    .enter()
    .append("text")
    .attr("x", 616)
    .attr("y", (d, i) => 26 + i * 19.6)
    .attr("font-size", 19)
    .attr("fill", (d, i) => legendColors[i])
    .text(d => d);
pb.axes.append("text").attr("x", 1030).attr("y", 32).attr("text-anchor", "end")
    .attr("font-size", 20).attr("fill", "#000").text("(b)");
richText(svg, 564, 128, [["Counts norm.", false]], 22, { rotate: true });
richText(svg, 823, 297, [["(f", false], ["pk", true], ["-f", false], ["uh", true], [")/f", false], ["uh", true]], 22);

// ---------- (c)-(f) ----------
const stripBoxes = [
    { l: 77, r: 1046, t: 323, b: 522 },
    { l: 77, r: 1046, t: 529, b: 728 },
    { l: 77, r: 1046, t: 735, b: 934 },
    { l: 77, r: 1046, t: 941, b: 1140 }
];
const stripY = [[0, 100], [0, 320], [0, 700], [0, 700]];
const stripTicks = [[0,20,40,60,80,100], [0,100,200,300], [0,200,400,600], [0,200,400,600]];
const stripSeries = [
    [[countsObserved, col.black]],
    [[countsCase1UH, col.green], [countsCase2UH, col.blue]],
    [[countsUpperB, col.orange], [countsLowerB, col.yellow]],
    [[countsCase2All, col.purple]]
];
const stripText = [
    [["Observed UH waves", col.black]],
    [["Case 1 UH waves", col.green], ["Case 2 UH waves", col.blue]],
    [["Case 1 upper Bernstein", col.orange], ["Case 2 lower Bernstein", col.yellow]],
    [["Case 2 UH and Bernstein", col.purple]]
];
const stripLetters = ["(c)", "(d)", "(e)", "(f)"];
const textBase = [[345], [551, 574], [757, 781], [963]];
const letterBase = [345, 555, 759, 964];

stripBoxes.forEach((box, k) => {
    const p = makePanel(box, [2, 20], stripY[k],
        { xTicks: ticksF_x, yTicks: stripTicks[k], tickLen: 10, yPad: 6, xPad: 11, xLabels: k === 3 });

    p.plot.selectAll("line.harm")
        .data(harmonics)
        .enter()
        .append("line")
        .attr("x1", d => p.x(d)).attr("x2", d => p.x(d))
        .attr("y1", box.t).attr("y2", box.b)
        .attr("stroke", col.cyan)
        .attr("stroke-width", 2);
    p.plot.selectAll("line.half")
        .data(halfHarmonics)
        .enter()
        .append("line")
        .attr("x1", d => p.x(d)).attr("x2", d => p.x(d))
        .attr("y1", box.t + 2).attr("y2", box.b)
        .attr("stroke", col.cyan)
        .attr("stroke-width", 2)
        .attr("stroke-dasharray", "13,6");

    stripSeries[k].forEach(([data, c]) => drawLine(p, data, c, 2.8));

    stripText[k].forEach(([s, c], i) => {
        p.axes.append("text")
            .attr("x", 901).attr("y", textBase[k][i])
            .attr("text-anchor", "end")
            .attr("font-size", 20)
            .attr("fill", c)
            .text(s);
    });
    p.axes.append("text").attr("x", 1042).attr("y", letterBase[k]).attr("text-anchor", "end")
        .attr("font-size", 20).attr("fill", "#000").text(stripLetters[k]);

    richText(svg, 27, (box.t + box.b) / 2, [["Counts", false]], 22, { rotate: true });
});

richText(svg, 561, 1190, [["f/f", false], ["ce", true]], 22);
</script>
</body>
</html>
